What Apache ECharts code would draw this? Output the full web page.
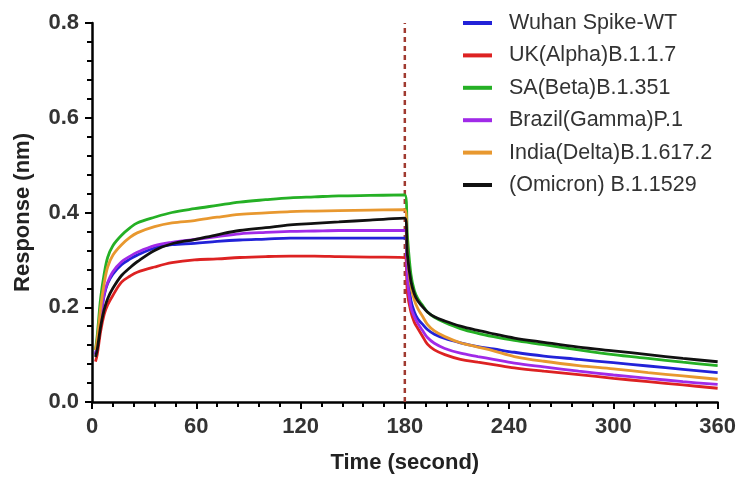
<!DOCTYPE html>
<html>
<head>
<meta charset="utf-8">
<script src="https://cdn.jsdelivr.net/npm/echarts@6/dist/echarts.min.js"></script>
<style>html,body{margin:0;padding:0;background:#fff;}#c{width:739px;height:479px;}</style>
</head>
<body>
<div id="c"></div>
<script>
const times = [2, 3, 5, 7, 9, 12, 17, 22, 26, 36, 46, 59, 72, 85, 100, 114, 128, 142, 160, 180,
  181.5, 183.5, 185.5, 187.5, 190, 193, 197, 203, 212, 222, 231, 243, 260, 280, 300, 320, 340, 360];
const seriesNames = ['Wuhan Spike-WT', 'UK(Alpha)B.1.1.7', 'SA(Beta)B.1.351', 'Brazil(Gamma)P.1', 'India(Delta)B.1.617.2', '(Omicron) B.1.1529'];
const wuhan = [0.10, 0.12, 0.18, 0.225, 0.25, 0.27, 0.29, 0.302, 0.31, 0.325, 0.332, 0.335, 0.339, 0.342, 0.344, 0.346, 0.346, 0.346, 0.346, 0.346,
  0.27, 0.215, 0.19, 0.175, 0.165, 0.153, 0.143, 0.134, 0.125, 0.117, 0.112, 0.105, 0.097, 0.09, 0.083, 0.076, 0.069, 0.062];
const uk = [0.085, 0.10, 0.15, 0.185, 0.205, 0.225, 0.253, 0.266, 0.274, 0.285, 0.294, 0.30, 0.302, 0.305, 0.307, 0.308, 0.308, 0.307, 0.306, 0.305,
  0.23, 0.19, 0.168, 0.155, 0.14, 0.122, 0.11, 0.10, 0.09, 0.084, 0.079, 0.072, 0.065, 0.058, 0.05, 0.043, 0.036, 0.029];
const sa = [0.11, 0.14, 0.22, 0.27, 0.305, 0.33, 0.352, 0.368, 0.378, 0.39, 0.40, 0.408, 0.415, 0.422, 0.427, 0.431, 0.433, 0.435, 0.436, 0.437,
  0.35, 0.27, 0.235, 0.218, 0.205, 0.19, 0.179, 0.168, 0.155, 0.145, 0.138, 0.13, 0.121, 0.11, 0.10, 0.092, 0.084, 0.077];
const brazil = [0.10, 0.12, 0.18, 0.228, 0.252, 0.275, 0.296, 0.308, 0.316, 0.33, 0.337, 0.343, 0.349, 0.355, 0.358, 0.36, 0.361, 0.362, 0.362, 0.362,
  0.26, 0.20, 0.18, 0.166, 0.152, 0.136, 0.124, 0.113, 0.103, 0.096, 0.09, 0.082, 0.074, 0.065, 0.057, 0.05, 0.043, 0.037];
const india = [0.11, 0.13, 0.20, 0.25, 0.285, 0.31, 0.332, 0.348, 0.357, 0.37, 0.378, 0.383, 0.39, 0.396, 0.399, 0.402, 0.403, 0.404, 0.405, 0.406,
  0.31, 0.245, 0.215, 0.197, 0.182, 0.164, 0.15, 0.138, 0.125, 0.116, 0.108, 0.096, 0.086, 0.077, 0.07, 0.062, 0.055, 0.048];
const omicron = [0.095, 0.11, 0.16, 0.195, 0.218, 0.24, 0.267, 0.284, 0.296, 0.32, 0.334, 0.343, 0.353, 0.362, 0.368, 0.374, 0.377, 0.38, 0.384, 0.388,
  0.31, 0.255, 0.228, 0.213, 0.202, 0.19, 0.18, 0.171, 0.16, 0.151, 0.144, 0.135, 0.126, 0.116, 0.108, 0.10, 0.092, 0.085];
const xTicks = [0, 60, 120, 180, 240, 300, 360];
const yTicks = [0.0, 0.2, 0.4, 0.6, 0.8];
const switchTime = 180;

const allValues = [wuhan, uk, sa, brazil, india, omicron];
const colors = ['#2222d8', '#dd2222', '#25b025', '#a02ae8', '#e8982f', '#111111'];
const FONT = "'Liberation Sans', Arial, sans-serif";

const series = allValues.map((vals, i) => ({
  name: seriesNames[i],
  type: 'line',
  data: times.map((t, j) => [t, vals[j]]),
  showSymbol: false,
  smooth: 0.35,
  lineStyle: { width: 2.8, color: colors[i] },
  itemStyle: { color: colors[i] },
  z: 2,
  animation: false
}));
series.push({
  name: 'switch',
  type: 'line',
  data: [[switchTime, yTicks[0]], [switchTime, yTicks[yTicks.length - 1]]],
  showSymbol: false,
  lineStyle: { width: 2.5, color: '#a03a30', type: [5, 4] },
  z: 1,
  animation: false
});

const chart = echarts.init(document.getElementById('c'));
chart.setOption({
  backgroundColor: '#fff',
  animation: false,
  grid: { left: 92, right: 20, top: 23, bottom: 75 },
  legend: {
    data: seriesNames,
    orient: 'vertical',
    left: 458,
    top: 7,
    itemWidth: 29,
    itemHeight: 4,
    itemGap: 10.4,
    icon: 'rect',
    textStyle: { fontFamily: FONT, fontSize: 21.5, color: '#333', lineHeight: 22, padding: [0, 0, 0, 12] }
  },
  xAxis: {
    type: 'value',
    min: xTicks[0], max: xTicks[xTicks.length - 1], interval: 60,
    name: 'Time (second)',
    nameLocation: 'middle',
    nameGap: 50,
    nameTextStyle: { fontFamily: FONT, fontSize: 22, fontWeight: 'bold', color: '#222' },
    axisLine: { lineStyle: { color: '#000', width: 2.5 } },
    axisTick: { length: 7, lineStyle: { color: '#000', width: 2 } },
    minorTick: { show: true, splitNumber: 5, length: 5, lineStyle: { color: '#000', width: 2 } },
    splitLine: { show: false },
    axisLabel: { fontFamily: FONT, fontSize: 22, fontWeight: 'bold', color: '#333', margin: 14 }
  },
  yAxis: {
    type: 'value',
    min: yTicks[0], max: yTicks[yTicks.length - 1], interval: 0.2,
    name: 'Response (nm)',
    nameLocation: 'middle',
    nameGap: 58,
    nameRotate: 90,
    nameTextStyle: { fontFamily: FONT, fontSize: 22, fontWeight: 'bold', color: '#222' },
    axisLine: { show: true, lineStyle: { color: '#000', width: 2.5 } },
    axisTick: { show: true, length: 7, lineStyle: { color: '#000', width: 2 } },
    minorTick: { show: true, splitNumber: 5, length: 5, lineStyle: { color: '#000', width: 2 } },
    splitLine: { show: false },
    axisLabel: { fontFamily: FONT, fontSize: 22, fontWeight: 'bold', color: '#333', margin: 13,
      formatter: v => v.toFixed(1) }
  },
  series: series
});
</script>
</body>
</html>
